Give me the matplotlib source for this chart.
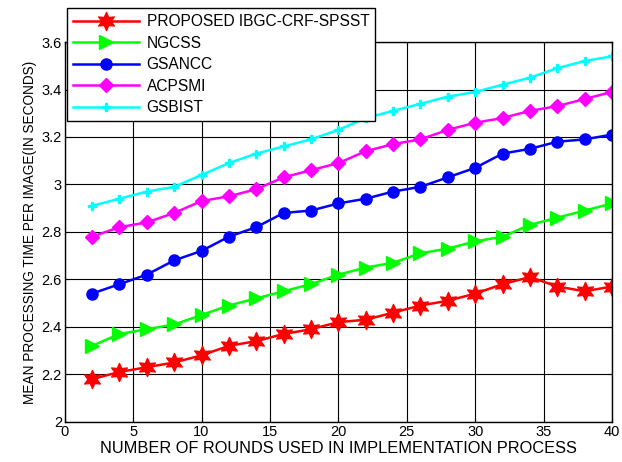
import matplotlib
matplotlib.use("Agg")
from matplotlib import pyplot as plt
from matplotlib.path import Path
import numpy as np

plt.rcParams['font.family'] = ['Liberation Sans', 'DejaVu Sans']

rounds = list(range(2, 41, 2))
proposed = [2.18, 2.21, 2.23, 2.25, 2.28, 2.32, 2.34, 2.37, 2.39, 2.42,
            2.43, 2.46, 2.49, 2.51, 2.54, 2.58, 2.61, 2.57, 2.55, 2.57]
ngcss = [2.32, 2.37, 2.39, 2.41, 2.45, 2.49, 2.52, 2.55, 2.58, 2.62,
         2.65, 2.67, 2.71, 2.73, 2.76, 2.78, 2.83, 2.86, 2.89, 2.92]
gsancc = [2.54, 2.58, 2.62, 2.68, 2.72, 2.78, 2.82, 2.88, 2.89, 2.92,
          2.94, 2.97, 2.99, 3.03, 3.07, 3.13, 3.15, 3.18, 3.19, 3.21]
acpsmi = [2.78, 2.82, 2.84, 2.88, 2.93, 2.95, 2.98, 3.03, 3.06, 3.09,
          3.14, 3.17, 3.19, 3.23, 3.26, 3.28, 3.31, 3.33, 3.36, 3.39]
gsbist = [2.91, 2.94, 2.97, 2.99, 3.04, 3.09, 3.13, 3.16, 3.19, 3.23,
          3.28, 3.31, 3.34, 3.37, 3.39, 3.42, 3.45, 3.49, 3.52, 3.54]

names = ['PROPOSED IBGC-CRF-SPSST', 'NGCSS', 'GSANCC', 'ACPSMI', 'GSBIST']
series = [proposed, ngcss, gsancc, acpsmi, gsbist]
colors = ['#ff0000', '#00ff00', '#0000ff', '#ff00ff', '#00ffff']

# six pointed star like matlab 'hexagram'
ang = np.linspace(0, 2 * np.pi, 13)[:-1] + np.pi / 2
rad = np.where(np.arange(12) % 2 == 0, 1.0, 0.5)
verts = np.column_stack([rad * np.cos(ang), rad * np.sin(ang)])
verts = np.vstack([verts, verts[:1]])
hexagram = Path(verts, closed=True)

markers = [hexagram, '>', 'o', 'D', 'P']
msizes = [13, 10, 8, 7, 6]

fig = plt.figure(figsize=(6.22, 4.62), dpi=100)
ax = fig.add_axes([0.104, 0.087, 0.880, 0.822])

for ys, name, c, m, ms in zip(series, names, colors, markers, msizes):
    ax.plot(rounds, ys, color=c, marker=m, markersize=ms, linewidth=1.8,
            markerfacecolor=c, markeredgecolor=c, label=name)

ax.set_xlim(0, 40)
ax.set_ylim(2, 3.6)
ax.set_xticks(range(0, 41, 5))
ax.set_yticks([2, 2.2, 2.4, 2.6, 2.8, 3, 3.2, 3.4, 3.6])
ax.set_yticklabels(['2', '2.2', '2.4', '2.6', '2.8', '3', '3.2', '3.4', '3.6'])
ax.grid(True, color='black', linewidth=0.8)
ax.tick_params(direction='in', labelsize=10.5, top=True, right=True, length=3, pad=2)
for s in ax.spines.values():
    s.set_linewidth(1.0)

ax.set_xlabel('NUMBER OF ROUNDS USED IN IMPLEMENTATION PROCESS', fontsize=11.8, labelpad=2)
ax.set_ylabel('MEAN PROCESSING TIME PER IMAGE(IN SECONDS)', fontsize=9.8, labelpad=3)

leg = ax.legend(loc='upper left', bbox_to_anchor=(0.108, 0.983),
                bbox_transform=fig.transFigure, fontsize=11.2, fancybox=False,
                framealpha=1, edgecolor='black', borderpad=0.4,
                labelspacing=0.42, handlelength=4.2, handletextpad=0.5,
                borderaxespad=0)
leg.get_frame().set_linewidth(1.0)

fig.savefig('out.png', dpi=100)
